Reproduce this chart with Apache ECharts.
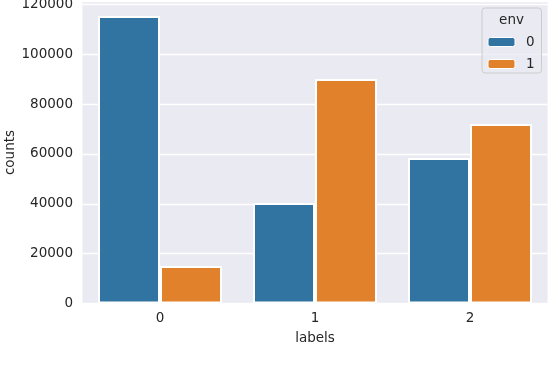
<!DOCTYPE html>
<html>
<head>
<meta charset="utf-8">
<script src="https://cdn.jsdelivr.net/npm/echarts@6/dist/echarts.min.js"></script>
<style>
html,body{margin:0;padding:0;background:#fff;}
#c{width:548px;height:378px;}
</style>
</head>
<body>
<div id="c"></div>
<script>
const categories = ['0', '1', '2'];
const env0 = [115400, 40300, 58400];
const env1 = [15050, 90100, 72050];
const seriesNames = ['0', '1'];
const yTicks = [0, 20000, 40000, 60000, 80000, 100000, 120000];
const xName = 'labels';
const yName = 'counts';
const legendTitle = 'env';

const FONT = 'DejaVu Sans';
const TXT = '#262626';
const chart = echarts.init(document.getElementById('c'), null, {renderer: 'canvas'});
chart.setOption({
  animation: false,
  backgroundColor: '#ffffff',
  textStyle: {fontFamily: FONT},
  grid: {
    left: 82.5, right: 0.5, top: 1.5, bottom: 74.5,
    containLabel: false, outerBoundsMode: 'none',
    show: true, backgroundColor: '#EAEAF2', borderWidth: 0
  },
  xAxis: {
    type: 'category',
    data: categories,
    name: xName,
    nameLocation: 'middle',
    nameGap: 28,
    nameMoveOverlap: false,
    nameTextStyle: {fontFamily: FONT, fontSize: 13.5, color: TXT},
    axisLine: {show: false},
    axisTick: {show: false},
    splitLine: {show: false},
    axisLabel: {margin: 8, fontFamily: FONT, fontSize: 13.5, color: TXT}
  },
  yAxis: {
    type: 'value',
    min: 0,
    max: 121200,
    interval: 20000,
    name: yName,
    nameLocation: 'middle',
    nameGap: 65,
    nameMoveOverlap: false,
    nameTextStyle: {fontFamily: FONT, fontSize: 13.5, color: TXT},
    axisLine: {show: false},
    axisTick: {show: false},
    splitLine: {show: true, lineStyle: {color: '#ffffff', width: 1.3}},
    axisLabel: {
      margin: 9.5, fontFamily: FONT, fontSize: 13.5, color: TXT,
      formatter: function (v) { return yTicks.indexOf(v) >= 0 ? String(v) : ''; }
    }
  },
  legend: {
    orient: 'vertical',
    left: 487.5,
    top: 35,
    itemWidth: 27,
    itemHeight: 9,
    itemGap: 8,
    padding: 0,
    data: seriesNames,
    textStyle: {fontFamily: FONT, fontSize: 13.5, color: TXT, padding: [0, 0, 0, 6]},
    itemStyle: {borderColor: '#ffffff', borderWidth: 1}
  },
  graphic: [
    {
      type: 'rect', z: 3, silent: true,
      shape: {x: 482, y: 8, width: 59.5, height: 65, r: 3},
      style: {fill: 'rgba(234,234,242,0.8)', stroke: '#cccccc', lineWidth: 1}
    },
    {
      type: 'text', z: 5, silent: true,
      style: {x: 511.5, y: 20.5, text: legendTitle, fill: TXT, font: '13.5px "DejaVu Sans"', align: 'center', verticalAlign: 'middle'}
    }
  ],
  series: [
    {
      name: seriesNames[0], type: 'bar', data: env0, z: 2,
      barGap: '0%', barCategoryGap: '20%',
      itemStyle: {color: '#3274A1', borderColor: '#ffffff', borderWidth: 2}
    },
    {
      name: seriesNames[1], type: 'bar', data: env1, z: 2,
      barGap: '0%', barCategoryGap: '20%',
      itemStyle: {color: '#E1812C', borderColor: '#ffffff', borderWidth: 2}
    }
  ]
});
</script>
</body>
</html>
